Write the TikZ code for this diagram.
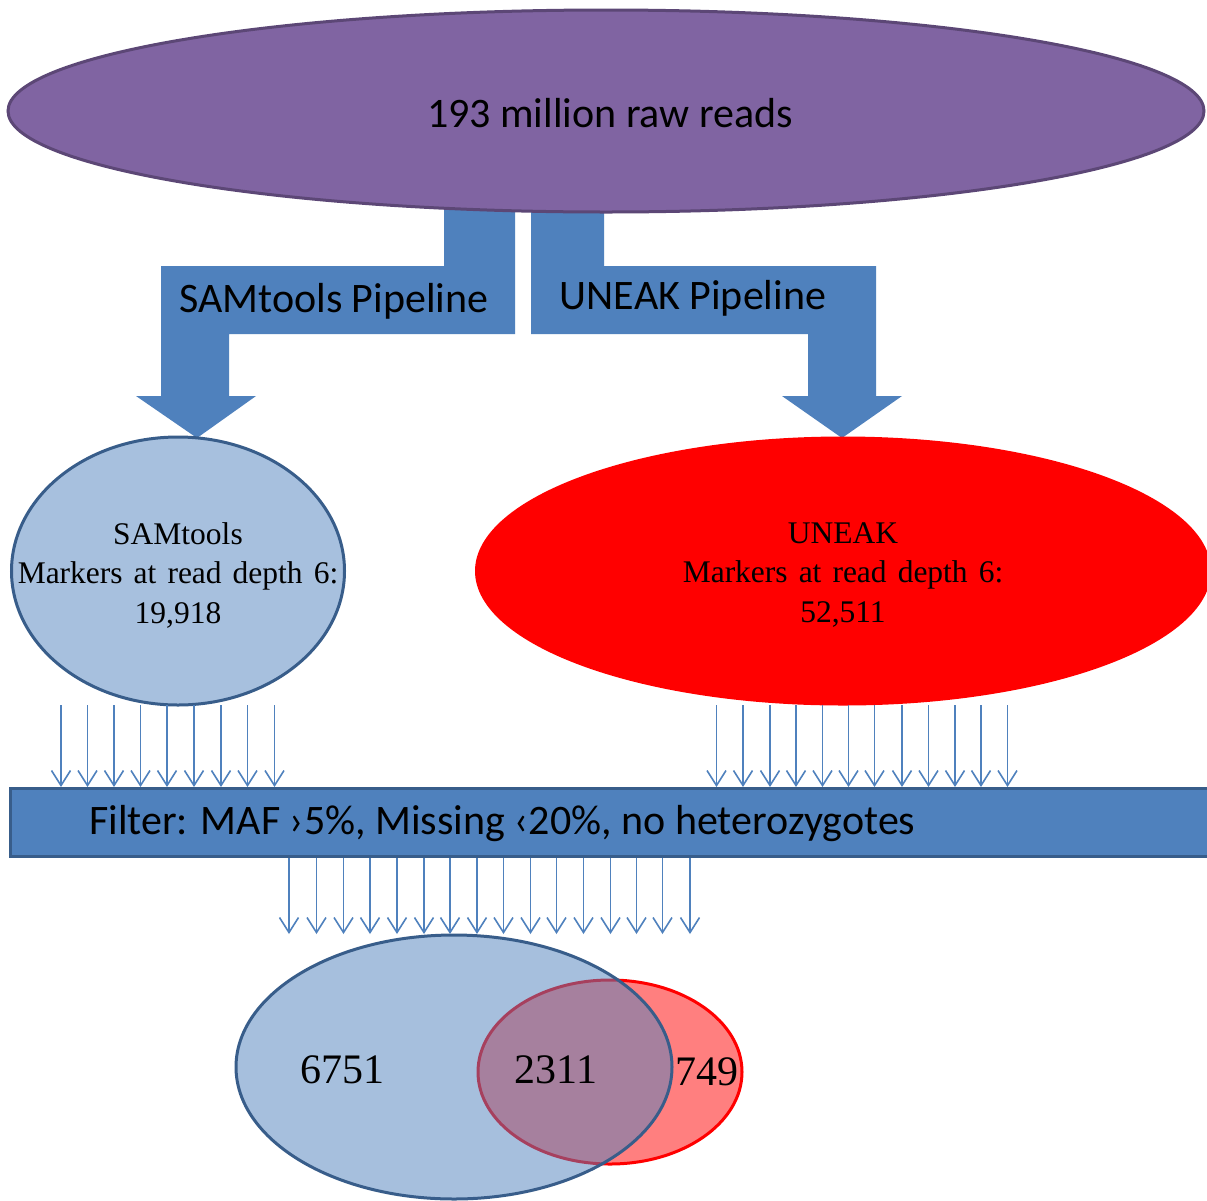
\documentclass[tikz,border=0pt]{standalone}
\usepackage{fontspec}
\setmainfont{Liberation Serif}
\newfontfamily\calfont{Carlito}
\usetikzlibrary{shapes.geometric,arrows.meta}
\definecolor{bblue}{HTML}{4F81BD}
\definecolor{bdark}{HTML}{385D8A}
\definecolor{purp}{HTML}{8064A2}
\definecolor{purpdark}{HTML}{5C4776}
\tikzset{
  oval/.style={ellipse, inner sep=0pt, line width=3pt},
  calib/.style={font=\calfont\fontsize{42}{50}\selectfont, text=black},
  serif/.style={font=\fontsize{31.5}{39.5}\selectfont, align=center, text=black},
  venntxt/.style={font=\fontsize{42}{50}\selectfont, text=black},
  smallarrow/.style={draw=bblue, line width=1.6pt, -{Straight Barb[length=15pt,width=19pt]}},
  bigarrow/.style={fill=bblue},
}
\begin{document}
\begin{tikzpicture}[x=1pt,y=-1pt]
\clip (0,0) rectangle (1207,1200);
\fill[white] (0,0) rectangle (1207,1200);
% split arrow
\fill[bigarrow] (444,205) -- (515,205) -- (515,334) -- (229,334) -- (229,396) -- (256,396)
  -- (197,438) -- (136,396) -- (161,396) -- (161,266) -- (444,266) -- cycle;
\fill[bigarrow] (531,205) -- (604,205) -- (604,266) -- (876,266) -- (876,396) -- (902,396)
  -- (842,438) -- (782,396) -- (808,396) -- (808,334) -- (531,334) -- cycle;
% top ellipse
\node[oval, fill=purp, draw=purpdark, minimum width=1196pt, minimum height=202pt,
  calib] (raw) at (606,111) {};
\node[calib] (rawtxt) at (610,113) {193 million raw reads};
\node[calib] (samlbl) at (334,301) {SAMtools Pipeline};
\node[calib] (uneaklbl) at (693,298) {UNEAK Pipeline};
% pipeline ellipses
\node[oval, fill=bblue!50, draw=bdark, minimum width=333pt, minimum height=268pt] (sam) at (178,571) {};
\node[serif] (samtxt) at (178,575) {SAMtools\\Markers\hspace{0.35em}at\hspace{0.35em}read\hspace{0.35em}depth\hspace{0.35em}6:\\19,918};
\node[oval, fill=red, minimum width=736pt, minimum height=269pt] (uneak) at (843,571) {};
\node[serif] (uneaktxt) at (843,575) {UNEAK\\Markers\hspace{0.35em}at\hspace{0.35em}read\hspace{0.35em}depth\hspace{0.35em}6:\\52,511};
% filter bar
\node[rectangle, fill=bblue, draw=bdark, line width=3pt, minimum width=1215pt, minimum height=68pt,
  inner sep=0pt, anchor=north west] (filter) at (9,787) {};
\node[calib, anchor=west, inner sep=0pt] (filtertxt) at (89,824) {Filter: MAF ›5\%, Missing ‹20\%, no heterozygotes};
% small arrows
\foreach \x in {61,87.5,114,140.5,167,194,221,247.5,274.5}
  \draw[smallarrow] (\x,705) -- (\x,0 |- filter.north);
\foreach \x in {716.5,743,770,796,822.5,848.5,874.5,902,928.5,955,981,1007.5}
  \draw[smallarrow] (\x,705) -- (\x,0 |- filter.north);
% venn
\node[oval, fill=red, fill opacity=.5, draw=red, minimum width=264pt, minimum height=184pt] (uv) at (610,1072) {};
\node[oval, fill=bblue, fill opacity=.5, draw=bdark, minimum width=436pt, minimum height=264pt] (sv) at (454,1067) {};
\foreach \x in {289,316.5,343.5,370,397,424,450,477,503.5,530.5,556.5,583.5,610.5,636.5,662.5,690}
  \draw[smallarrow] (\x,0 |- filter.south) -- (\x,934);
\node[venntxt] (a) at (342,1070) {6751};
\node[venntxt] (b) at (556,1070) {2311};
\node[venntxt] (c) at (707,1072) {749};
\end{tikzpicture}
\end{document}
